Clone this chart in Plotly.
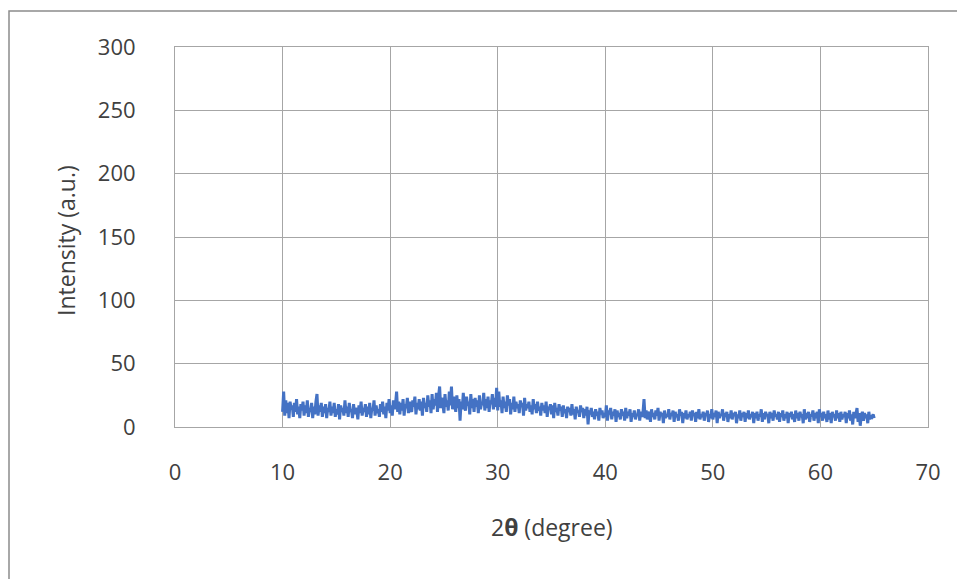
import plotly.graph_objects as go

# XRD scan: 2-theta from 10 to 65 degrees in 0.1 degree steps
two_theta_start = 10.0
two_theta_step = 0.1

intensity = [
    12, 28, 9, 21, 11, 19, 7, 20, 14, 17,      # 10
    8, 19, 12, 22, 10, 16, 7, 18, 13, 20,      # 11
    9, 17, 11, 21, 8, 15, 12, 19, 7, 16,       # 12
    10, 20, 26, 9, 17, 12, 19, 8, 16, 11,      # 13
    18, 7, 15, 12, 20, 9, 16, 11, 19, 8,       # 14
    14, 10, 18, 6, 17, 12, 15, 9, 21, 11,      # 15
    16, 8, 19, 12, 14, 7, 18, 10, 15, 13,      # 16
    6, 17, 11, 20, 9, 15, 12, 18, 8, 16,       # 17
    10, 19, 7, 15, 13, 21, 9, 17, 11, 14,      # 18
    8, 18, 12, 20, 10, 16, 7, 19, 13, 22,      # 19
    11, 17, 9, 21, 14, 18, 28, 12, 20, 10,     # 20
    19, 13, 22, 9, 18, 15, 23, 11, 20, 14,     # 21
    12, 21, 16, 24, 10, 19, 14, 22, 13, 20,    # 22
    9, 23, 15, 19, 12, 25, 16, 21, 11, 26,     # 23
    14, 22, 17, 27, 12, 24, 32, 15, 23, 18,    # 24
    11, 26, 16, 21, 13, 28, 17, 32, 14, 24,    # 25
    18, 12, 25, 15, 22, 5, 20, 14, 27, 16,     # 26
    13, 24, 17, 20, 10, 26, 15, 22, 12, 23,    # 27
    16, 21, 11, 25, 14, 19, 17, 27, 13, 22,    # 28
    15, 24, 12, 21, 18, 26, 14, 23, 16, 31,    # 29
    13, 28, 16, 21, 11, 24, 15, 20, 12, 25,    # 30
    17, 22, 10, 19, 14, 24, 12, 20, 15, 18,    # 31
    11, 21, 16, 19, 9, 23, 13, 18, 15, 20,     # 32
    12, 17, 10, 22, 14, 18, 11, 20, 13, 16,    # 33
    9, 19, 13, 17, 11, 20, 8, 16, 14, 18,      # 34
    10, 17, 7, 19, 12, 15, 9, 18, 13, 16,      # 35
    8, 17, 11, 14, 7, 16, 12, 15, 9, 18,       # 36
    10, 14, 6, 16, 11, 13, 8, 17, 12, 15,      # 37
    7, 14, 9, 16, 2, 13, 10, 15, 8, 12,        # 38
    6, 14, 9, 12, 5, 15, 10, 13, 7, 11,        # 39
    8, 17, 5, 13, 10, 15, 6, 12, 9, 14,        # 40
    4, 13, 8, 11, 6, 14, 9, 12, 5, 15,         # 41
    7, 12, 9, 14, 4, 11, 8, 13, 6, 10,         # 42
    9, 14, 5, 12, 8, 11, 22, 7, 13, 6,         # 43
    10, 12, 4, 14, 8, 11, 6, 13, 9, 15,        # 44
    5, 12, 9, 11, 3, 13, 7, 10, 8, 14,         # 45
    6, 11, 9, 13, 4, 12, 8, 10, 5, 14,         # 46
    9, 12, 3, 11, 7, 13, 6, 10, 8, 12,         # 47
    5, 13, 9, 11, 4, 12, 7, 14, 6, 10,         # 48
    8, 12, 5, 11, 9, 13, 4, 10, 7, 14,         # 49
    6, 11, 8, 13, 3, 12, 7, 10, 9, 14,         # 50
    5, 11, 8, 12, 4, 10, 7, 13, 6, 11,         # 51
    9, 12, 3, 10, 7, 13, 5, 11, 8, 12,         # 52
    4, 11, 7, 13, 6, 10, 8, 12, 3, 11,         # 53
    7, 12, 5, 10, 8, 14, 4, 11, 6, 12,         # 54
    9, 10, 3, 12, 7, 11, 5, 13, 8, 10,         # 55
    6, 12, 4, 11, 8, 13, 5, 10, 7, 12,         # 56
    3, 11, 8, 12, 6, 10, 4, 13, 7, 11,         # 57
    5, 12, 8, 10, 3, 14, 6, 11, 7, 12,         # 58
    4, 10, 8, 13, 5, 11, 7, 12, 3, 14,         # 59
    8, 11, 5, 12, 7, 10, 4, 13, 6, 11,         # 60
    3, 12, 8, 10, 5, 13, 7, 11, 4, 12,         # 61
    6, 10, 8, 12, 3, 11, 7, 13, 5, 10,         # 62
    2, 12, 7, 10, 15, 4, 11, 1, 9, 12,         # 63
    5, 11, 7, 10, 3, 12, 6, 9, 8, 10,          # 64
    7,                                         # 65
]
two_theta = [round(two_theta_start + i * two_theta_step, 2) for i in range(len(intensity))]

x_ticks = [0, 10, 20, 30, 40, 50, 60, 70]
y_ticks = [0, 50, 100, 150, 200, 250, 300]

FONT = "Open Sans"
TEXT = "#404040"
GRID = "#a6a6a6"

fig = go.Figure()
fig.add_trace(go.Scatter(
    x=two_theta, y=intensity, mode="lines",
    line=dict(color="#4472C4", width=3, simplify=False),
    showlegend=False, hoverinfo="skip",
))

fig.update_layout(
    width=957, height=579,
    margin=dict(l=175, r=29, t=47, b=152),
    paper_bgcolor="white", plot_bgcolor="white",
    font=dict(family=FONT, color=TEXT, size=22),
    xaxis=dict(
        range=[0, 70], tickvals=x_ticks, ticks="",
        showgrid=True, gridcolor=GRID, gridwidth=1,
        showline=True, linecolor=GRID, linewidth=1, mirror=True,
        zeroline=False, ticklabelstandoff=26,
        tickfont=dict(family=FONT, size=22, color=TEXT),
    ),
    yaxis=dict(
        range=[0, 300], tickvals=y_ticks, ticks="",
        showgrid=True, gridcolor=GRID, gridwidth=1,
        showline=True, linecolor=GRID, linewidth=1, mirror=True,
        zeroline=False, ticklabelstandoff=34,
        tickfont=dict(family=FONT, size=22, color=TEXT),
    ),
    annotations=[
        dict(text="2<b>θ</b> (degree)", xref="paper", yref="paper",
             x=0.5, y=-100 / 380, xanchor="center", yanchor="middle",
             showarrow=False, font=dict(family=FONT, size=23, color=TEXT)),
        dict(text="Intensity (a.u.)", xref="paper", yref="paper",
             x=-109 / 753, y=187 / 380, xanchor="center", yanchor="middle",
             textangle=-90, showarrow=False,
             font=dict(family=FONT, size=23, color=TEXT)),
    ],
    shapes=[
        dict(type="rect", xref="paper", yref="paper",
             x0=-166 / 753, x1=800 / 753, y0=-170 / 380, y1=416 / 380,
             line=dict(color="#8c8c8c", width=1.5), fillcolor="rgba(0,0,0,0)",
             layer="below"),
    ],
)

fig.write_html("out.html")
